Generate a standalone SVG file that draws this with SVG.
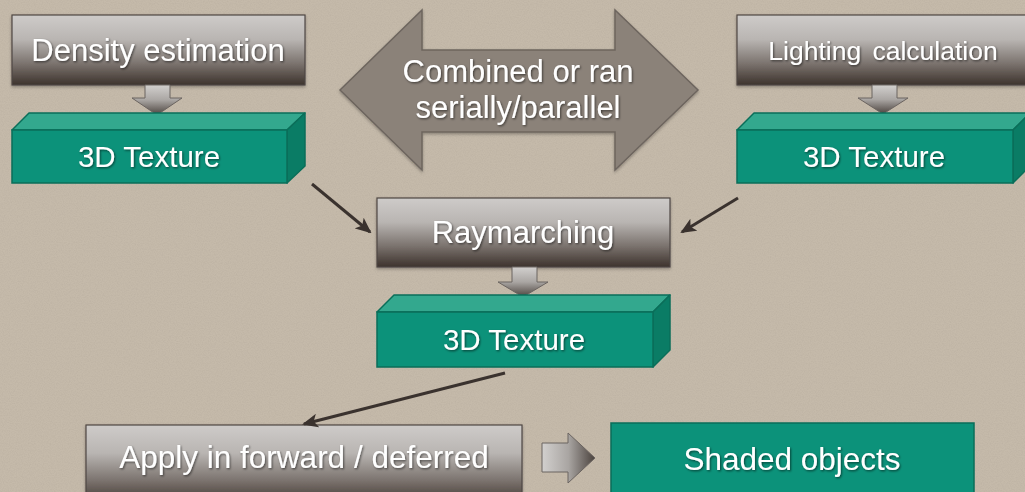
<svg xmlns="http://www.w3.org/2000/svg" width="1025" height="492" viewBox="0 0 1025 492">
  <defs>
    <style>
      .lbl { font-family: "Liberation Sans", Arial, sans-serif; fill: #ffffff; text-anchor: middle; filter: url(#txtShadow); }
      .step { fill: url(#stepFill); stroke: #4e4743; stroke-width: 1.2; filter: url(#boxShadow); }
      .front { fill: #0c927a; stroke: #0a6e59; stroke-width: 1.5; }
      .top { fill: #33a88e; stroke: #0a6e59; stroke-width: 1.5; stroke-linejoin: round; }
      .side { fill: #0a7c65; stroke: #0a6e59; stroke-width: 1.5; stroke-linejoin: round; }
      .flow { fill: url(#downFill); stroke: #6b6460; stroke-width: 1; }
      .link { stroke: #3a322e; stroke-width: 3; fill: none; marker-end: url(#head); }
    </style>
    <linearGradient id="stepFill" x1="0" y1="0" x2="0" y2="1">
      <stop offset="0" stop-color="#cecbc9"/>
      <stop offset="0.35" stop-color="#b9b5b2"/>
      <stop offset="0.7" stop-color="#7a726d"/>
      <stop offset="1" stop-color="#3d332d"/>
    </linearGradient>
    <linearGradient id="downFill" x1="0" y1="0" x2="0" y2="1">
      <stop offset="0" stop-color="#d2d0ce"/>
      <stop offset="0.5" stop-color="#aaa6a3"/>
      <stop offset="1" stop-color="#4a423d"/>
    </linearGradient>
    <linearGradient id="rightFill" x1="0" y1="0" x2="1" y2="0">
      <stop offset="0" stop-color="#d2d0ce"/>
      <stop offset="0.5" stop-color="#a9a5a2"/>
      <stop offset="1" stop-color="#4a423d"/>
    </linearGradient>
    <filter id="txtShadow" x="-10%" y="-30%" width="120%" height="160%">
      <feDropShadow dx="1" dy="1.2" stdDeviation="0.9" flood-color="#000" flood-opacity="0.55"/>
    </filter>
    <filter id="boxShadow" x="-5%" y="-10%" width="110%" height="130%">
      <feDropShadow dx="0" dy="1.5" stdDeviation="1.5" flood-color="#000" flood-opacity="0.3"/>
    </filter>
    <filter id="grain" x="0" y="0" width="100%" height="100%">
      <feTurbulence type="fractalNoise" baseFrequency="0.85" numOctaves="2" seed="7"/>
      <feColorMatrix type="matrix" values="0 0 0 0 0.35  0 0 0 0 0.30  0 0 0 0 0.25  0.35 0 0 0 -0.12"/>
    </filter>
    <marker id="head" markerUnits="userSpaceOnUse" markerWidth="16" markerHeight="14" viewBox="0 0 16 14" refX="14" refY="7" orient="auto">
      <path d="M0,0 L16,7 L0,14 L4,7 Z" fill="#3a322e"/>
    </marker>
  </defs>

  <!-- paper background -->
  <rect width="1025" height="492" fill="#c5baaa"/>
  <rect width="1025" height="492" filter="url(#grain)"/>

  <!-- two-way arrow between the two producer chains -->
  <g id="combine">
    <path d="M340,90 L422,10 L422,50 L615,50 L615,10 L698,90 L615,170 L615,132 L422,132 L422,170 Z" fill="#8b8279" stroke="#6d655e" stroke-width="1.5" filter="url(#boxShadow)"/>
    <text class="lbl" x="518" y="82" font-size="31">Combined or ran</text>
    <text class="lbl" x="518" y="118" font-size="31">serially/parallel</text>
  </g>

  <!-- density chain -->
  <g id="density">
    <rect class="step" x="12" y="15" width="293" height="70"/>
    <text class="lbl" x="158" y="61" font-size="31">Density estimation</text>
  </g>
  <g id="density-flow">
    <path class="flow" d="M145,85 L170,85 L170,98 L182,98 L157,115 L132,98 L145,98 Z"/>
  </g>
  <g id="texture-density">
    <path class="top" d="M12,130 L29,113 L305,113 L287,130 Z"/>
    <path class="side" d="M287,130 L305,113 L305,166 L287,183 Z"/>
    <rect class="front" x="12" y="130" width="275" height="53"/>
    <text class="lbl" x="149" y="167" font-size="29.5">3D Texture</text>
  </g>

  <!-- lighting chain -->
  <g id="lighting">
    <rect class="step" x="737" y="15" width="290" height="70"/>
    <text class="lbl" x="883" y="60" font-size="26.5" word-spacing="4">Lighting calculation</text>
  </g>
  <g id="lighting-flow">
    <path class="flow" d="M872,85 L897,85 L897,98 L908,98 L883,114 L858,98 L872,98 Z"/>
  </g>
  <g id="texture-lighting">
    <path class="top" d="M737,130 L754,113 L1030,113 L1013,130 Z"/>
    <path class="side" d="M1013,130 L1030,113 L1030,166 L1013,183 Z"/>
    <rect class="front" x="737" y="130" width="276" height="53"/>
    <text class="lbl" x="874" y="167" font-size="29.5">3D Texture</text>
  </g>

  <!-- raymarching chain -->
  <g id="raymarching">
    <rect class="step" x="377" y="198" width="293" height="69"/>
    <text class="lbl" x="523" y="243" font-size="31">Raymarching</text>
  </g>
  <g id="raymarching-flow">
    <path class="flow" d="M512,267 L537,267 L537,282 L548,282 L523,297 L498,282 L512,282 Z"/>
  </g>
  <g id="texture-result">
    <path class="top" d="M377,312 L394,295 L670,295 L653,312 Z"/>
    <path class="side" d="M653,312 L670,295 L670,350 L653,367 Z"/>
    <rect class="front" x="377" y="312" width="276" height="55"/>
    <text class="lbl" x="514" y="350" font-size="29.5">3D Texture</text>
  </g>

  <!-- final application -->
  <g id="apply">
    <rect class="step" x="86" y="425" width="436" height="80"/>
    <text class="lbl" x="304" y="468" font-size="31.5">Apply in forward / deferred</text>
  </g>
  <g id="apply-flow">
    <path d="M542,443 L568,443 L568,433 L595,458 L568,483 L568,472 L542,472 Z" fill="url(#rightFill)" stroke="#6b6460" stroke-width="1"/>
  </g>
  <g id="shaded">
    <rect x="611" y="423" width="363" height="80" fill="#0c927a" stroke="#0a6e59" stroke-width="1.5"/>
    <text class="lbl" x="792" y="470" font-size="31.5">Shaded objects</text>
  </g>

  <!-- connectors -->
  <g id="connectors">
    <line class="link" x1="312" y1="184" x2="370" y2="232"/>
    <line class="link" x1="738" y1="198" x2="682" y2="232"/>
    <line class="link" x1="505" y1="373" x2="304" y2="424"/>
  </g>
</svg>
